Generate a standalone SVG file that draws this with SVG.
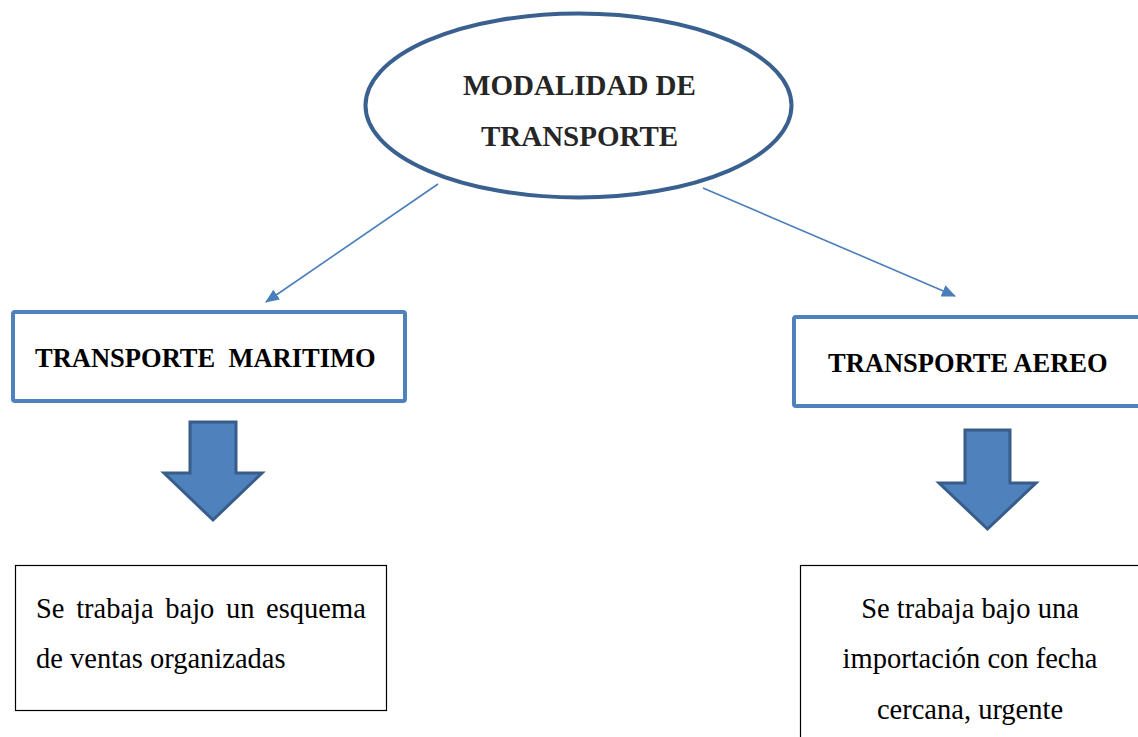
<svg xmlns="http://www.w3.org/2000/svg" width="1138" height="737" viewBox="0 0 1138 737">
<style>
.title{font-family:"Liberation Serif","Times New Roman",serif;font-weight:bold;font-size:29px;fill:#262626;text-anchor:middle}
.head{font-family:"Liberation Serif","Times New Roman",serif;font-weight:bold;font-size:26.5px;fill:#000;white-space:pre}
.body{font-family:"Liberation Serif","Times New Roman",serif;font-size:28.5px;fill:#000}
.hbox{fill:#fff;stroke:#4f81bd;stroke-width:4}
.tbox{fill:#fff;stroke:#000;stroke-width:1.2}
.barrow{fill:#4f81bd;stroke:#385d8a;stroke-width:3;stroke-linejoin:miter}
.conn{stroke:#4a7ebb;stroke-width:1.6;fill:none}
</style>
<defs>
<marker id="ah" viewBox="0 0 14 12" refX="13" refY="6" markerWidth="14" markerHeight="12" markerUnits="userSpaceOnUse" orient="auto">
<path d="M0,0 L14,6 L0,12 Z" fill="#4a7ebb"/>
</marker>
</defs>
<rect width="1138" height="737" fill="#fff"/>
<g id="connectors">
<line class="conn" x1="438" y1="184" x2="266" y2="302" marker-end="url(#ah)"/>
<line class="conn" x1="703" y1="188" x2="955" y2="296" marker-end="url(#ah)"/>
</g>
<g id="root">
<ellipse cx="578.5" cy="105.5" rx="213" ry="92" fill="#fff" stroke="#3a6090" stroke-width="4"/>
<text class="title" x="579.5" y="95">MODALIDAD DE</text>
<text class="title" x="579.5" y="146">TRANSPORTE</text>
</g>
<g id="maritimo">
<rect class="hbox" x="13" y="312" width="392" height="89" rx="2"/>
<text class="head" x="35" y="367" xml:space="preserve">TRANSPORTE  MARITIMO</text>
</g>
<g id="aereo">
<rect class="hbox" x="794" y="317" width="360" height="89" rx="2"/>
<text class="head" x="828" y="372">TRANSPORTE AEREO</text>
</g>
<g id="arrow-maritimo">
<path class="barrow" d="M190,422 L236,422 L236,473 L262,473 L213,520 L164,473 L190,473 Z"/>
</g>
<g id="arrow-aereo">
<path class="barrow" d="M965,430 L1010,430 L1010,483 L1036,483 L987.5,529 L939,483 L965,483 Z"/>
</g>
<g id="desc-maritimo">
<rect class="tbox" x="15.5" y="565.5" width="371" height="145"/>
<text class="body" x="36" y="618" word-spacing="4.5">Se trabaja bajo un esquema</text>
<text class="body" x="36" y="668">de ventas organizadas</text>
</g>
<g id="desc-aereo">
<rect class="tbox" x="800.5" y="565.5" width="360" height="200"/>
<text class="body" x="970" y="618" text-anchor="middle">Se trabaja bajo una</text>
<text class="body" x="970" y="668" text-anchor="middle">importación con fecha</text>
<text class="body" x="970" y="719" text-anchor="middle">cercana, urgente</text>
</g>
</svg>
